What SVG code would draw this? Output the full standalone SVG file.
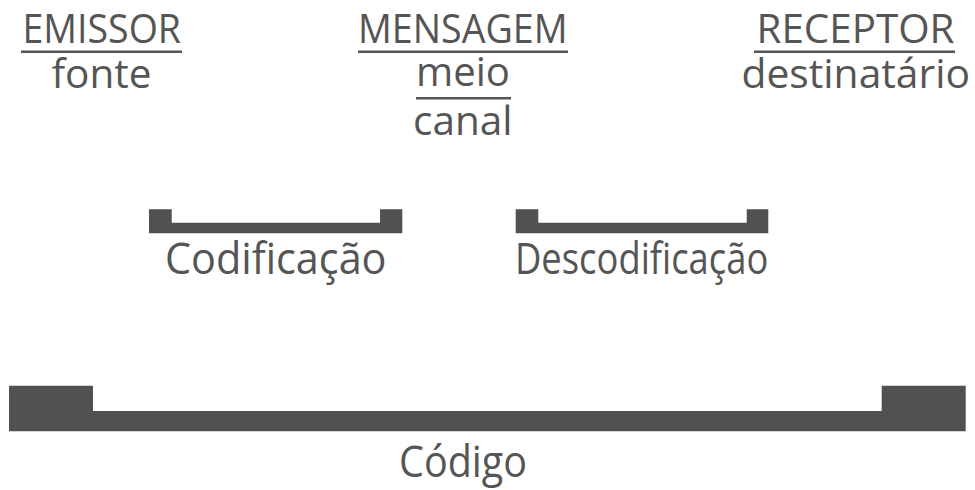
<svg xmlns="http://www.w3.org/2000/svg" width="975" height="490" viewBox="0 0 975 490">
<style>
.t{font-family:"Open Sans","Noto Sans","Liberation Sans",sans-serif;fill:#555555;}
.h{font-size:40px;}
.l{font-size:44px;}
.u{stroke:#555555;stroke-width:2.4;}
.b{fill:#515151;}
</style>
<rect width="975" height="490" fill="#ffffff"/>
<g id="emissor">
<text class="t h" x="22.5" y="43" textLength="158.5" lengthAdjust="spacingAndGlyphs">EMISSOR</text>
<line class="u" x1="21" y1="51.7" x2="182" y2="51.7"/>
<text class="t h" x="51.5" y="88" textLength="100" lengthAdjust="spacingAndGlyphs">fonte</text>
</g>
<g id="mensagem">
<text class="t h" x="358" y="43" textLength="209.5" lengthAdjust="spacingAndGlyphs">MENSAGEM</text>
<line class="u" x1="358" y1="51.7" x2="568" y2="51.7"/>
<text class="t h" x="416" y="86" textLength="94" lengthAdjust="spacingAndGlyphs">meio</text>
<line class="u" x1="416" y1="98.3" x2="511" y2="98.3"/>
<text class="t h" x="413" y="135" textLength="99.5" lengthAdjust="spacingAndGlyphs">canal</text>
</g>
<g id="receptor">
<text class="t h" x="756.5" y="43" textLength="198" lengthAdjust="spacingAndGlyphs">RECEPTOR</text>
<line class="u" x1="754" y1="51.7" x2="955" y2="51.7"/>
<text class="t h" x="741.5" y="88" textLength="228.5" lengthAdjust="spacingAndGlyphs">destinatário</text>
</g>
<g id="connectors">
<path id="codificacao-bracket" class="b" d="M149,209.3 H171.7 V222.7 H380 V209.3 H402.3 V233.3 H149 Z"/>
<path id="descodificacao-bracket" class="b" d="M515.7,209.3 H538.3 V222.7 H746.7 V209.3 H768.3 V233.3 H515.7 Z"/>
<path id="codigo-bracket" class="b" d="M9,385.7 H93 V411 H881.7 V385.7 H965.7 V431.3 H9 Z"/>
</g>
<g id="codificacao">
<text class="t l" x="165" y="274" textLength="221.5" lengthAdjust="spacingAndGlyphs">Codificação</text>
</g>
<g id="descodificacao">
<text class="t l" x="515" y="274" textLength="253.3" lengthAdjust="spacingAndGlyphs">Descodificação</text>
</g>
<g id="codigo">
<text class="t l" x="399" y="477" textLength="128" lengthAdjust="spacingAndGlyphs">Código</text>
</g>
</svg>
